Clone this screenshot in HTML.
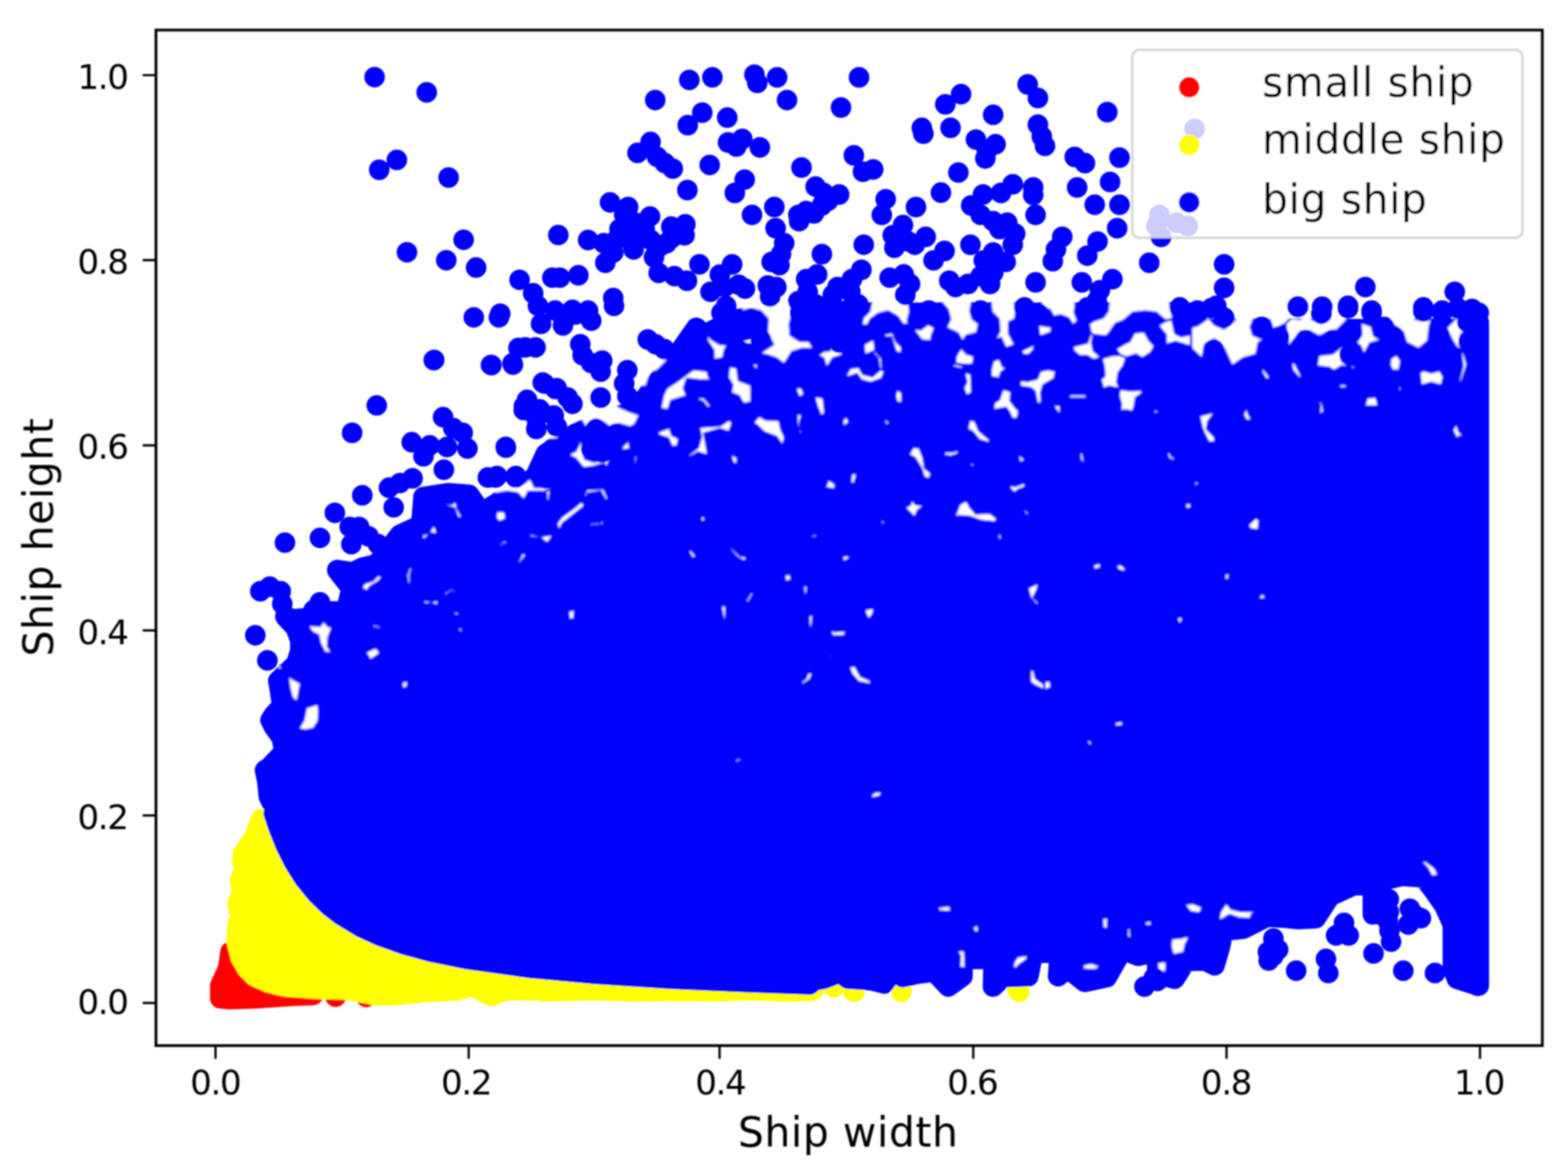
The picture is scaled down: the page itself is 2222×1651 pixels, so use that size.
<!DOCTYPE html>
<html lang="en">
<head>
<meta charset="utf-8">
<title>Ship width vs ship height</title>
<style>
html,body{margin:0;padding:0;background:#fff;}
body{width:2222px;height:1651px;overflow:hidden;}
svg{display:block;}
text{font-family:"DejaVu Sans","Liberation Sans",sans-serif;fill:#000;}
.tk{font-size:48.3px;letter-spacing:-1.9px;}
.lb{font-size:57.9px;letter-spacing:0.85px;}
</style>
</head>
<body>
<svg width="2222" height="1651" viewBox="0 0 2222 1651">
<rect x="0" y="0" width="2222" height="1651" fill="#fff"/>
<g id="plot" filter="url(#soft)">
<g id="small-ship" fill="#ff0000"><g stroke="#ff0000" stroke-width="29.2" stroke-linejoin="round"><path d="M312.2 1414.6L312.2 1396.8L323.4 1372.3L326.7 1349.0L358.9 1376.8L425.6 1407.9L443.4 1410.1L414.5 1411.2L363.4 1414.6L325.6 1415.9z"/></g><path d="M461.0 1412.4a14.6 14.6 0 1 0 29.2 0a14.6 14.6 0 1 0 -29.2 0zM504.4 1412.8a14.6 14.6 0 1 0 29.2 0a14.6 14.6 0 1 0 -29.2 0z"/></g>
<g id="middle-ship" fill="#ffff00"><g stroke="#ffff00" stroke-width="29.2" stroke-linejoin="round"><path d="M370.0 1161.1L361.2 1185.6L344.5 1210.0L343.4 1221.2L347.8 1232.3L340.0 1247.8L343.4 1263.4L336.7 1281.2L341.1 1299.0L336.7 1310.1L335.6 1334.5L341.1 1356.8L350.0 1372.3L361.2 1383.5L381.2 1392.3L403.4 1397.9L447.9 1401.2L492.3 1402.4L532.3 1410.1L559.0 1410.1L603.5 1405.7L647.9 1403.5L668.0 1396.8L696.9 1411.5L714.6 1403.5L764.0 1402.6L770.0 1405.0L840.0 1403.0L900.0 1405.0L973.0 1404.0L1007.0 1405.0L1064.0 1403.0L1114.0 1405.0L1150.0 1404.0L1147.6 1386.4L1022.2 1380.3L843.0 1366.6L753.4 1355.7L663.8 1339.2L610.0 1324.7L574.2 1311.8L538.3 1295.0L511.5 1278.5L484.6 1257.0L466.7 1238.8L448.8 1215.9L434.4 1193.1L423.7 1172.4z"/></g><path d="M1194.8 1404.8a14.6 14.6 0 1 0 29.2 0a14.6 14.6 0 1 0 -29.2 0zM1262.6 1404.8a14.6 14.6 0 1 0 29.2 0a14.6 14.6 0 1 0 -29.2 0zM1427.1 1401.2a14.6 14.6 0 1 0 29.2 0a14.6 14.6 0 1 0 -29.2 0zM1167.0 1399.0a14.6 14.6 0 1 0 29.2 0a14.6 14.6 0 1 0 -29.2 0zM1138.1 1402.3a14.6 14.6 0 1 0 29.2 0a14.6 14.6 0 1 0 -29.2 0zM1196.0 1405.4a14.6 14.6 0 1 0 29.2 0a14.6 14.6 0 1 0 -29.2 0zM1262.8 1405.4a14.6 14.6 0 1 0 29.2 0a14.6 14.6 0 1 0 -29.2 0zM1429.7 1405.4a14.6 14.6 0 1 0 29.2 0a14.6 14.6 0 1 0 -29.2 0z"/></g>
<g id="big-ship" fill="#0000ff"><g stroke="#0000ff" stroke-width="29.2" stroke-linejoin="round"><path d="M392.3 1151.6L381.1 1129.3L378.9 1107.1L375.6 1091.5L382.3 1087.1L403.4 1064.9L398.9 1044.9L387.8 1029.3L383.4 1020.4L387.8 1013.7L400.0 1000.4L396.7 978.2L394.5 964.8L404.5 955.9L420.1 940.4L425.6 922.6L425.6 907.0L418.9 889.2L404.5 873.7L415.6 877.9L437.8 875.7L469.0 866.8L491.2 864.6L497.9 833.5L477.9 807.9L500.1 811.3L513.4 804.6L533.4 800.1L551.2 777.9L566.8 757.9L595.7 744.6L597.9 733.4L600.1 704.5L635.7 699.0L664.6 701.2L682.4 726.8L711.3 709.0L729.1 711.2L760.0 672.3L773.4 643.4L815.6 614.5L900.1 581.2L922.3 554.5L944.6 525.6L976.8 478.9L986.8 464.5L997.9 474.5L1020.1 463.3L1033.5 452.2L1064.6 452.2L1122.4 443.3L1194.0 443.3L1194.0 443.3L1688.0 443.3L1688.0 466.7L2095.5 466.7L2095.5 460.8L2095.5 1396.8L2064.6 1387.0L2058.9 1372.3L2058.9 1310.1L2046.8 1283.4L2031.3 1261.2L2017.9 1243.4L1986.8 1241.2L1957.9 1247.8L1957.9 1294.5L1945.5 1295.8L1945.5 1252.3L1917.9 1254.5L1884.6 1270.1L1864.5 1301.2L1840.1 1302.5L1817.9 1300.3L1795.6 1299.0L1773.4 1310.1L1762.3 1315.9L1733.4 1319.0L1728.9 1341.2L1721.1 1367.9L1706.7 1360.3L1680.0 1362.5L1664.5 1387.0L1648.9 1382.5L1640.0 1390.1L1640.0 1347.9L1612.9 1354.5L1590.6 1345.6L1568.4 1384.8L1537.3 1391.4L1512.8 1372.3L1499.5 1383.4L1501.7 1350.1L1463.9 1350.1L1457.3 1383.4L1421.7 1384.8L1407.2 1398.1L1408.3 1359.0L1363.9 1359.0L1363.9 1383.4L1343.9 1398.1L1323.9 1376.8L1297.2 1380.3L1279.4 1384.8L1266.1 1375.9L1252.7 1393.7L1234.9 1389.2L1201.6 1387.0L1190.5 1378.1L1168.2 1387.0L1146.0 1391.4L1147.6 1395.1L1058.0 1392.0L950.5 1387.1L843.0 1380.2L753.4 1372.0L663.8 1359.6L610.0 1348.7L574.2 1339.0L538.3 1326.3L511.5 1313.9L484.6 1297.8L466.7 1284.1L448.8 1266.9L430.8 1244.8L416.5 1222.0L404.0 1196.7L395.0 1174.2L387.8 1152.7z"/></g><mask id="massmask" maskUnits="userSpaceOnUse" x="0" y="0" width="2222" height="1651"><g fill="#fff" stroke="#fff" stroke-width="30.8" stroke-linejoin="round"><path d="M392.3 1151.6L381.1 1129.3L378.9 1107.1L375.6 1091.5L382.3 1087.1L403.4 1064.9L398.9 1044.9L387.8 1029.3L383.4 1020.4L387.8 1013.7L400.0 1000.4L396.7 978.2L394.5 964.8L404.5 955.9L420.1 940.4L425.6 922.6L425.6 907.0L418.9 889.2L404.5 873.7L415.6 877.9L437.8 875.7L469.0 866.8L491.2 864.6L497.9 833.5L477.9 807.9L500.1 811.3L513.4 804.6L533.4 800.1L551.2 777.9L566.8 757.9L595.7 744.6L597.9 733.4L600.1 704.5L635.7 699.0L664.6 701.2L682.4 726.8L711.3 709.0L729.1 711.2L760.0 672.3L773.4 643.4L815.6 614.5L900.1 581.2L922.3 554.5L944.6 525.6L976.8 478.9L986.8 464.5L997.9 474.5L1020.1 463.3L1033.5 452.2L1064.6 452.2L1122.4 443.3L1194.0 443.3L1194.0 443.3L1688.0 443.3L1688.0 466.7L2095.5 466.7L2095.5 460.8L2095.5 1396.8L2064.6 1387.0L2058.9 1372.3L2058.9 1310.1L2046.8 1283.4L2031.3 1261.2L2017.9 1243.4L1986.8 1241.2L1957.9 1247.8L1957.9 1294.5L1945.5 1295.8L1945.5 1252.3L1917.9 1254.5L1884.6 1270.1L1864.5 1301.2L1840.1 1302.5L1817.9 1300.3L1795.6 1299.0L1773.4 1310.1L1762.3 1315.9L1733.4 1319.0L1728.9 1341.2L1721.1 1367.9L1706.7 1360.3L1680.0 1362.5L1664.5 1387.0L1648.9 1382.5L1640.0 1390.1L1640.0 1347.9L1612.9 1354.5L1590.6 1345.6L1568.4 1384.8L1537.3 1391.4L1512.8 1372.3L1499.5 1383.4L1501.7 1350.1L1463.9 1350.1L1457.3 1383.4L1421.7 1384.8L1407.2 1398.1L1408.3 1359.0L1363.9 1359.0L1363.9 1383.4L1343.9 1398.1L1323.9 1376.8L1297.2 1380.3L1279.4 1384.8L1266.1 1375.9L1252.7 1393.7L1234.9 1389.2L1201.6 1387.0L1190.5 1378.1L1168.2 1387.0L1146.0 1391.4L1147.6 1395.1L1058.0 1392.0L950.5 1387.1L843.0 1380.2L753.4 1372.0L663.8 1359.6L610.0 1348.7L574.2 1339.0L538.3 1326.3L511.5 1313.9L484.6 1297.8L466.7 1284.1L448.8 1266.9L430.8 1244.8L416.5 1222.0L404.0 1196.7L395.0 1174.2L387.8 1152.7z"/></g></mask><g mask="url(#massmask)"><path filter="url(#gapsoft)" fill="#ffffff" stroke="#0000ff" stroke-width="3.4" stroke-linejoin="round" d="M1688.0 463.3L1696.9 461.1L1712.5 450.0L1721.3 460.0L1734.7 465.6L1750.3 452.2L1754.7 436.7L1759.1 421.1L1823.6 421.1L1824.7 441.1L1830.3 450.0L1821.4 458.9L1812.5 463.3L1803.6 466.7L1799.2 453.3L1788.0 448.9L1776.9 452.2L1772.5 463.3L1775.8 474.5L1785.8 478.9L1796.9 477.8L1783.6 485.6L1780.3 502.3L1761.4 507.8L1745.8 518.9L1734.7 494.5L1721.3 481.1L1708.0 487.8L1703.6 508.9L1688.0 493.4zM1821.4 458.9L1830.3 450.0L1841.4 452.2L1854.7 443.3L1859.2 452.2L1872.5 457.8L1885.9 450.0L1894.8 421.1L1898.1 421.1L1901.4 445.6L1910.3 452.2L1901.4 461.1L1894.8 467.8L1881.4 471.1L1869.2 476.7L1857.0 470.0L1843.6 470.0L1832.5 483.4L1825.8 493.4L1823.6 474.5zM1928.1 456.7L1943.7 462.2L1947.0 475.6L1958.1 482.2L1941.4 486.7L1932.6 503.4L1928.1 491.1L1921.4 485.6L1929.2 474.5zM1868.1 503.4L1888.1 501.1L1899.2 492.3L1907.0 487.8L1901.4 498.9L1902.5 512.3L1910.3 517.8L1919.2 517.8L1921.4 527.8L1914.8 521.2L1901.4 518.9L1890.3 525.6L1883.6 521.2L1865.9 518.9zM1958.1 421.1L1999.3 421.1L1999.3 443.3L2005.9 452.2L2021.5 453.3L2029.3 451.1L2025.9 463.3L2023.7 483.4L2010.4 494.5L1992.6 485.6L1988.1 471.1L1974.8 461.1L1958.1 453.3L1957.0 441.1zM2052.6 461.1L2063.7 450.0L2081.5 458.9L2079.3 465.6L2070.4 474.5L2068.2 487.8L2073.7 496.7L2063.7 492.3L2057.1 481.1L2049.3 465.6zM2073.7 496.7L2079.3 516.7L2070.4 543.4L2067.1 540.0L2072.6 518.9L2070.4 501.1zM1970.3 507.8L1979.2 502.3L1985.5 511.1L1982.6 525.6L1972.6 524.5L1969.2 516.7zM2011.5 527.8L2017.0 524.5L2028.2 527.8L2040.4 524.5L2045.9 534.5L2042.6 546.7L2028.2 542.3L2013.7 546.7L2012.6 536.7zM1937.0 563.4L1950.3 562.3L1953.7 575.6L1933.7 575.6zM1829.2 511.1L1835.8 515.6L1844.7 533.4L1841.4 536.7L1831.4 524.5zM1786.9 521.2L1791.4 523.4L1800.3 534.5L1794.7 538.9L1788.0 527.8zM1867.0 565.6L1873.6 570.1L1876.5 583.4L1869.2 589.0L1870.3 574.5zM1766.9 575.6L1769.1 585.6L1774.3 595.6L1765.8 595.6L1761.4 587.8zM1699.1 589.0L1722.5 583.4L1712.5 596.7L1710.2 607.9L1721.3 619.0L1722.5 626.8L1712.5 626.8L1703.6 607.9zM2063.7 599.0L2068.2 612.3L2076.0 616.8L2067.1 619.0L2065.9 625.6L2058.2 610.1zM1768.0 744.6L1779.2 733.5L1784.7 736.8L1783.6 751.3L1772.5 750.1zM1691.3 685.7L1696.9 680.1L1699.1 685.7L1693.6 689.0zM1895.9 544.5L1910.3 544.5L1907.0 550.1L1899.2 550.1zM1981.5 550.1L1984.8 538.9L1986.4 554.5L1981.9 554.1zM1236.2 421.1L1287.4 421.1L1289.6 441.1L1286.3 454.5L1288.5 460.0L1279.6 460.0L1271.8 448.9L1258.5 441.1L1245.1 444.5L1234.0 452.2L1229.6 461.1L1220.7 461.1L1222.9 450.0L1231.8 441.1zM1292.9 465.6L1305.2 466.7L1315.2 458.9L1325.2 464.5L1320.7 474.5L1319.6 483.4L1306.3 482.2zM1327.4 421.1L1378.5 421.1L1375.2 441.1L1378.5 452.2L1387.4 458.9L1384.1 472.2L1369.6 475.6L1364.1 484.5L1357.4 472.2L1340.7 464.5L1346.3 452.2L1343.0 438.9zM1403.0 421.1L1437.4 421.1L1439.7 443.3L1438.6 452.2L1429.7 456.7L1429.7 472.2L1438.6 488.9L1425.2 493.4L1418.5 478.9L1408.5 483.4L1416.3 470.0L1415.2 452.2L1405.2 442.2zM1447.4 496.7L1466.3 487.8L1465.2 495.6L1457.5 503.4L1448.6 502.3zM1473.0 421.1L1525.3 421.1L1523.0 443.3L1527.5 454.5L1520.8 461.1L1514.1 451.1L1503.0 446.7L1493.0 448.9L1487.5 438.9L1476.3 436.7zM1470.8 460.0L1490.8 463.3L1489.7 471.1L1473.0 477.1zM1517.5 477.8L1523.0 490.0L1540.8 485.6L1545.3 472.2L1549.7 474.5L1547.5 485.6L1549.7 496.7L1560.8 506.7L1549.7 510.0L1540.8 504.5L1529.7 504.5L1520.8 496.7L1519.7 485.6zM1571.9 421.1L1656.4 421.1L1660.9 443.3L1663.1 452.2L1652.0 454.5L1638.6 443.3L1623.1 441.1L1605.3 443.3L1592.0 454.5L1580.8 458.9L1571.9 472.2L1567.5 476.7L1549.7 474.5L1545.3 471.1L1543.0 458.9L1549.7 454.5L1563.1 450.0L1569.7 441.1zM1607.5 471.1L1622.0 470.0L1628.6 482.2L1636.4 490.0L1630.9 500.0L1618.6 507.8L1609.7 502.3L1596.4 506.7L1587.5 503.4L1580.8 494.5L1592.0 487.8L1600.8 483.4zM1596.4 506.7L1592.0 518.9L1585.3 527.8L1583.1 541.2L1587.5 551.2L1571.9 547.8L1563.1 551.2L1560.8 541.2L1558.6 538.9L1565.3 532.3L1564.2 518.9L1560.8 507.8L1576.4 503.4L1587.5 503.4zM1586.4 551.2L1600.8 553.4L1618.6 552.3L1618.6 557.8L1609.7 563.4L1607.5 576.7L1605.3 583.4L1594.2 581.2L1587.5 583.4L1588.6 572.3L1585.3 561.2zM1652.0 454.5L1660.9 452.2L1665.3 472.2L1674.2 476.7L1688.0 473.4L1688.0 491.1L1665.3 484.5L1652.0 488.9L1652.0 474.5L1640.9 461.1zM1407.4 511.1L1416.3 507.8L1420.8 518.9L1427.4 521.2L1418.5 527.8L1416.3 536.7L1404.1 533.4L1404.1 523.4zM1343.0 518.9L1354.1 515.6L1363.0 517.8L1369.6 527.8L1376.3 530.0L1377.4 556.7L1369.6 561.2L1365.2 550.1L1369.6 541.2L1365.2 523.4L1349.6 520.0zM1361.9 492.3L1369.6 501.1L1380.8 504.5L1378.5 516.7L1363.0 516.7L1354.1 514.5L1354.1 505.6zM1474.1 525.6L1485.2 523.4L1496.4 525.6L1494.1 536.7L1478.6 545.6L1475.2 556.7L1476.3 571.2L1469.7 572.3L1466.3 554.5L1460.8 550.1L1445.2 547.8L1445.2 538.9L1456.3 540.0L1469.7 536.7zM1420.8 551.2L1433.0 554.5L1431.9 567.8L1438.6 576.7L1444.1 582.3L1441.9 593.4L1434.1 593.4L1429.7 583.4L1425.2 577.8L1407.4 581.2L1408.5 571.2L1416.3 565.6zM1511.9 565.6L1516.4 558.9L1538.6 558.9L1543.0 571.2L1537.5 564.5L1516.4 564.5zM1490.8 573.4L1503.0 574.5L1503.0 595.6L1499.7 585.6L1495.2 579.0zM1270.7 551.2L1278.5 556.7L1278.5 571.2L1270.7 570.1L1268.5 561.2zM1374.1 594.5L1381.9 596.7L1387.4 610.1L1403.0 623.4L1401.9 627.9L1387.4 623.4L1378.5 612.3L1370.7 607.9zM1294.0 633.4L1302.9 634.5L1308.5 649.0L1310.7 663.4L1319.6 670.1L1317.4 679.0L1309.6 676.8L1305.2 663.4L1296.3 649.0L1287.4 644.5zM1337.4 640.1L1349.6 640.1L1359.6 636.8L1357.4 643.4L1347.4 646.8L1338.5 645.7zM1427.4 686.8L1438.6 689.0L1453.0 683.4L1453.0 690.1L1441.9 694.6L1438.6 699.0L1433.0 694.6zM1291.8 706.8L1297.4 714.6L1310.7 715.7L1300.7 723.5L1296.3 733.5L1290.7 727.9L1281.8 719.0L1289.6 715.7zM1369.6 709.0L1375.2 719.0L1383.0 727.9L1403.0 726.8L1413.0 734.6L1410.8 740.1L1389.6 737.9L1374.1 732.4L1358.5 731.2L1345.2 736.8L1354.1 729.0L1359.6 714.6zM1441.9 641.2L1448.6 647.9L1454.1 651.2L1448.6 654.5L1447.4 660.1L1444.1 652.3zM1529.7 641.2L1534.2 641.2L1536.4 652.3L1541.9 660.1L1537.5 659.0L1530.8 652.3zM1653.1 642.3L1657.5 640.1L1659.8 645.7L1665.3 649.0L1664.2 653.4L1656.4 650.1zM1206.2 671.2L1212.9 670.1L1214.0 674.6L1210.7 685.7L1205.1 684.6zM1194.0 595.6L1199.6 589.0L1204.0 599.0L1198.4 602.3L1194.0 606.7zM1247.4 737.9L1252.9 736.8L1254.0 744.6L1257.4 749.0L1251.8 745.7zM1446.3 719.0L1451.9 721.2L1457.5 725.7L1457.5 734.6L1453.0 727.9zM1413.0 756.8L1418.5 756.8L1419.7 763.5L1415.2 764.6zM1679.8 713.5L1688.0 712.3L1688.0 720.1L1679.8 721.2zM1194.0 787.9L1202.9 786.8L1204.0 791.3L1194.0 797.1zM1251.8 595.6L1257.4 594.5L1260.7 600.1L1256.3 603.4zM1375.2 656.8L1383.0 654.5L1379.6 660.1L1375.2 663.4zM1634.2 582.3L1638.6 580.1L1644.2 585.6L1635.3 585.6zM1224.0 487.8L1238.5 480.0L1240.7 496.7L1225.1 503.4zM1251.8 473.4L1265.1 471.1L1269.6 483.4L1278.5 492.3L1277.4 501.1L1269.6 498.9L1262.9 477.8L1254.0 477.8zM1198.4 532.3L1205.1 521.2L1217.3 520.0L1222.9 530.0L1236.2 533.4L1247.4 523.4L1254.0 525.6L1249.6 536.7L1234.0 542.3L1220.7 538.9L1214.0 530.0L1200.7 534.5zM1239.6 496.7L1249.6 507.8L1250.7 523.4L1246.2 523.4L1244.0 507.8L1237.4 501.1zM1049.0 421.1L1118.0 421.1L1123.5 443.3L1119.1 458.9L1120.2 474.5L1133.5 483.4L1146.9 483.4L1153.5 494.5L1135.8 494.5L1122.4 498.9L1111.3 516.7L1100.2 507.8L1086.8 503.4L1075.7 501.1L1095.7 487.8L1086.8 472.2L1088.0 452.2L1077.9 441.1L1064.6 437.8L1051.3 441.1zM1178.0 476.7L1182.4 494.5L1194.0 498.9L1194.0 503.4L1180.2 507.8L1171.3 522.3L1166.9 507.8L1158.0 503.4L1169.1 496.7L1175.8 496.7zM1051.3 482.2L1061.3 470.0L1067.9 473.4L1065.7 488.9L1057.9 487.8zM1000.1 472.2L1009.0 481.1L1020.1 487.8L1031.3 487.8L1026.8 496.7L1024.6 507.8L1011.3 510.0L1011.3 496.7L1002.4 483.4zM1033.5 518.9L1044.6 521.2L1046.8 538.9L1064.6 545.6L1064.6 570.1L1053.5 572.3L1046.8 561.2L1035.7 556.7L1037.9 545.6L1031.3 534.5zM1064.6 516.7L1073.5 514.5L1074.6 527.8L1069.1 521.2zM982.3 523.4L1002.4 525.6L1004.6 534.5L1013.5 538.9L993.5 538.9L973.5 536.7L969.0 550.1L973.5 561.2L951.2 567.8L946.8 581.2L935.7 579.0L940.1 558.9L944.6 550.1L964.6 536.7zM986.8 563.4L997.9 563.4L1009.0 576.7L1002.4 577.8L995.7 569.0L985.7 565.6zM922.3 507.8L949.0 507.8L931.2 525.6L922.3 527.8L915.7 547.8L909.0 547.8L895.6 543.4L897.9 534.5L904.5 527.8L902.3 516.7zM869.0 567.8L877.9 576.7L893.4 583.4L906.8 587.8L900.1 601.2L893.4 605.6L877.9 601.2L864.5 605.6L855.6 599.0L844.5 594.5L828.9 605.6L824.5 596.7L806.7 590.1L795.6 581.2L791.2 570.1L797.8 576.7L811.2 583.4L824.5 583.4L837.8 579.0L851.2 581.2L862.3 574.5zM931.2 612.3L949.0 605.6L952.3 616.8L962.3 621.2L960.1 632.3L952.3 633.4L946.8 621.2L933.4 616.8zM1033.5 594.5L1037.9 599.0L1033.5 612.3L1020.1 607.9L997.9 614.5L1000.1 625.6L1003.5 645.7L989.0 641.2L975.7 649.0L975.7 644.5L989.0 634.5L993.5 619.0L991.2 607.9L982.3 605.6L1020.1 603.4zM1075.7 589.0L1084.6 594.5L1104.6 595.6L1106.8 607.9L1112.4 620.1L1109.1 632.3L1100.2 619.0L1082.4 612.3L1073.5 603.4L1066.8 599.0zM1126.9 550.1L1135.8 548.9L1140.2 558.9L1132.4 563.4zM1153.5 561.2L1166.9 563.4L1169.1 585.6L1163.5 590.1L1158.0 576.7zM1129.1 585.6L1136.9 587.8L1133.5 599.0L1134.6 607.9L1139.1 617.9L1132.4 613.4L1129.1 599.0zM1034.6 642.3L1045.7 649.0L1043.5 660.1L1037.9 654.5zM1168.0 671.2L1173.5 679.0L1183.6 685.7L1183.6 693.5L1169.1 691.2L1172.4 683.4zM820.1 616.8L826.7 634.5L828.9 650.1L842.3 654.5L855.6 650.1L865.6 646.8L860.1 663.4L855.6 656.8L842.3 661.2L826.7 663.4L815.6 650.1L804.5 644.5L815.6 639.0L820.1 630.1zM880.1 634.5L891.2 623.4L893.4 636.8L882.3 637.9zM899.0 644.5L903.4 645.7L901.2 661.2L897.9 660.1zM777.8 601.2L784.5 610.1L797.8 613.4L788.9 622.3L773.4 623.4L773.4 612.3zM700.0 692.3L713.3 687.9L722.2 690.1L744.5 683.4L751.1 676.8L757.8 690.1L784.5 690.1L780.0 696.8L777.8 712.3L773.4 712.3L771.1 696.8L748.9 696.8L742.2 709.0L733.3 699.0L717.8 696.8L700.0 700.1zM831.2 693.5L855.6 692.3L862.3 706.8L857.8 709.0L851.2 696.8L833.4 699.0L828.9 710.1L827.8 701.2zM824.5 710.1L828.9 716.8L806.7 734.6L797.8 741.3L791.2 754.6L788.9 741.3L795.6 732.4L811.2 721.2zM853.4 725.7L855.6 743.5L835.6 745.7L835.6 741.3L851.2 740.1zM702.2 723.5L715.6 724.6L717.8 736.8L704.4 740.1L700.0 732.4zM748.9 755.7L766.7 760.1L785.6 756.8L777.8 771.3L773.4 772.4L766.7 764.6L751.1 763.5zM713.3 765.7L722.2 767.9L713.3 772.4L706.7 779.0L705.6 774.6zM740.0 783.5L746.7 785.7L737.8 797.1L731.1 797.1zM974.6 775.7L980.1 780.2L986.8 787.9L982.3 792.4L976.8 784.6zM1026.8 772.4L1037.9 776.8L1049.0 787.9L1059.1 789.1L1055.7 795.7L1044.6 790.2L1035.7 780.2zM992.4 734.6L996.8 729.0L1000.1 737.9L993.5 739.0zM1146.9 759.0L1156.9 756.8L1158.0 761.3L1149.1 762.4zM703.5 724.5L718.0 724.5L716.9 735.7L706.8 740.1L702.4 733.4zM749.1 755.7L762.4 759.0L784.7 757.9L775.8 770.1L766.9 763.5L751.3 761.2zM711.3 766.8L721.3 765.7L722.4 770.1L713.5 771.2L709.1 779.0L705.7 776.8zM739.1 784.6L745.8 782.3L744.6 791.2L733.5 800.1L730.2 797.9L736.9 791.2zM535.7 814.6L542.3 817.9L535.7 824.6L524.5 831.3L520.1 837.9L512.3 833.5L515.7 826.8L529.0 822.4zM580.1 803.5L584.6 804.6L581.2 815.7L582.3 827.9L577.9 826.8L576.1 815.7zM600.1 850.2L611.3 852.4L622.4 850.2L620.1 857.9L611.3 855.7L600.1 855.7zM629.0 840.2L637.9 834.6L649.0 835.7L647.9 839.0L637.9 839.0L631.3 844.6zM613.5 742.3L617.9 749.0L620.1 757.9L611.3 755.7L603.5 762.3L599.0 766.8L597.9 757.9L606.8 755.7L611.3 749.0zM624.6 712.3L640.2 714.5L646.8 709.0L647.9 720.1L655.7 733.4L649.0 734.5L643.5 720.1L626.8 715.7zM773.5 695.6L781.3 693.4L780.2 710.1L774.7 711.2zM435.6 885.9L453.4 887.0L459.0 879.2L464.5 887.0L471.2 889.2L465.6 902.6L464.5 915.9L471.2 925.9L460.1 924.8L453.4 911.5L451.2 900.3L442.3 895.9zM516.8 924.8L533.4 917.0L539.0 925.9L531.2 931.5L524.5 935.9L521.2 929.3zM407.8 955.9L415.6 962.6L426.7 968.2L424.5 978.2L421.2 995.9L413.4 988.2L410.0 973.7zM433.4 1002.6L451.2 997.1L452.3 1009.3L451.2 1022.6L444.5 1032.6L433.4 1034.9L422.3 1033.7L430.1 1020.4L432.3 1009.3zM569.0 967.0L579.0 963.7L576.8 974.8L570.1 975.9zM524.5 882.6L533.4 885.9L542.3 888.1L537.9 891.5L529.0 889.2zM647.9 891.5L653.5 888.1L657.9 900.3L651.3 894.8zM624.6 867.0L651.3 867.0L649.0 872.6L637.9 869.2zM392.3 941.5L398.9 943.7L400.0 949.3L393.4 948.1zM1677.8 1281.2L1691.1 1280.1L1704.5 1285.6L1700.0 1294.5L1686.7 1292.3zM1737.8 1278.9L1744.5 1287.8L1757.8 1291.2L1773.4 1291.2L1784.5 1287.8L1773.4 1296.7L1772.3 1302.3L1755.6 1301.2L1742.3 1296.7L1731.2 1303.4L1726.7 1303.4L1728.9 1292.3zM1660.0 1330.1L1673.3 1329.0L1686.7 1325.6L1680.0 1339.0L1677.8 1350.1L1662.2 1353.4L1658.9 1341.2zM1640.0 1363.4L1653.3 1362.3L1652.2 1379.0L1640.0 1374.5zM2013.5 1221.1L2020.2 1220.0L2033.5 1230.0L2038.0 1238.9L2042.4 1240.0L2029.1 1242.3L2022.4 1230.0zM1328.3 1285.6L1346.1 1283.4L1348.3 1292.3L1330.5 1291.2zM1378.3 1314.5L1386.1 1309.0L1387.2 1322.3L1380.5 1320.1zM1355.0 1346.8L1367.2 1346.8L1368.3 1372.3L1359.4 1371.2L1360.5 1354.5zM1441.7 1355.6L1457.3 1353.4L1455.0 1360.1L1443.9 1367.9L1439.5 1373.4L1435.0 1370.1L1437.2 1362.3zM1561.7 1301.2L1570.6 1300.1L1569.5 1316.7L1562.9 1315.6zM1597.3 1315.6L1601.8 1314.5L1602.9 1330.1L1597.3 1327.9zM1620.7 1306.7L1630.7 1304.5L1632.9 1311.2L1624.0 1312.3zM1535.1 1366.8L1546.2 1364.5L1559.5 1369.0L1552.8 1374.5L1541.7 1374.5L1534.0 1373.4zM805.0 866.5L815.0 863.2L813.3 876.5L806.6 878.2zM1111.5 814.9L1119.8 813.2L1121.5 821.5L1113.2 824.9zM1138.2 829.9L1144.8 829.9L1143.2 843.2L1139.2 841.5zM1064.9 838.2L1068.2 841.5L1059.9 854.9L1056.5 851.5zM1021.5 858.2L1029.2 858.2L1028.2 879.9L1024.9 878.2zM1224.8 863.2L1239.8 861.5L1236.4 871.5L1231.4 878.2L1227.1 871.5zM1145.8 871.5L1152.5 871.5L1150.5 889.8L1146.5 888.2zM1174.8 891.5L1183.1 894.8L1199.8 893.2L1196.5 901.5L1179.8 901.5zM1171.5 904.8L1174.8 904.8L1173.1 919.8L1179.8 931.5L1176.5 933.2L1169.8 919.8zM1203.1 944.8L1211.5 943.2L1219.8 958.1L1234.8 964.8L1233.1 969.8L1216.5 966.5L1206.5 954.8zM1144.8 953.2L1152.5 952.5L1148.1 963.1L1138.2 969.8L1133.2 968.1L1141.5 961.5zM1041.5 1076.4L1051.5 1073.1L1049.9 1078.1L1041.5 1081.4zM1456.3 833.2L1473.0 824.9L1469.7 836.5L1464.7 846.5L1476.3 858.2L1468.0 856.5L1459.7 846.5zM1459.7 949.8L1464.7 948.2L1468.0 961.5L1480.0 969.8L1480.0 978.1L1466.3 971.5L1459.7 966.5zM1548.5 800.5L1560.1 797.1L1559.5 805.5L1550.1 807.1zM1581.8 800.5L1588.5 799.8L1595.2 805.5L1593.5 810.5L1583.5 807.1zM1735.5 813.8L1743.1 811.1L1740.5 823.2L1735.5 820.5zM1783.9 845.5L1788.9 840.5L1793.9 845.5L1792.2 848.9L1783.9 848.9zM1667.7 874.6L1677.0 874.6L1674.3 882.3L1669.7 883.9zM1480.0 965.7L1488.3 964.1L1490.0 974.1L1480.0 979.1zM1579.5 1024.2L1590.2 1020.8L1591.9 1027.5L1580.2 1030.2zM1537.4 1048.2L1545.1 1049.2L1549.5 1056.9L1543.4 1055.9zM1234.0 1126.7L1240.7 1121.7L1250.7 1121.7L1247.4 1128.4L1235.7 1131.7z"/></g>
<path d="M516.2 109.3a14.6 14.6 0 1 0 29.2 0a14.6 14.6 0 1 0 -29.2 0zM590.1 130.9a14.6 14.6 0 1 0 29.2 0a14.6 14.6 0 1 0 -29.2 0zM522.8 240.6a14.6 14.6 0 1 0 29.2 0a14.6 14.6 0 1 0 -29.2 0zM547.8 226.6a14.6 14.6 0 1 0 29.2 0a14.6 14.6 0 1 0 -29.2 0zM621.1 251.6a14.6 14.6 0 1 0 29.2 0a14.6 14.6 0 1 0 -29.2 0zM642.4 339.8a14.6 14.6 0 1 0 29.2 0a14.6 14.6 0 1 0 -29.2 0zM562.1 357.5a14.6 14.6 0 1 0 29.2 0a14.6 14.6 0 1 0 -29.2 0zM617.8 368.8a14.6 14.6 0 1 0 29.2 0a14.6 14.6 0 1 0 -29.2 0zM660.1 379.2a14.6 14.6 0 1 0 29.2 0a14.6 14.6 0 1 0 -29.2 0zM721.7 396.5a14.6 14.6 0 1 0 29.2 0a14.6 14.6 0 1 0 -29.2 0zM656.8 449.8a14.6 14.6 0 1 0 29.2 0a14.6 14.6 0 1 0 -29.2 0zM692.4 449.8a14.6 14.6 0 1 0 29.2 0a14.6 14.6 0 1 0 -29.2 0zM600.1 510.4a14.6 14.6 0 1 0 29.2 0a14.6 14.6 0 1 0 -29.2 0zM681.8 517.4a14.6 14.6 0 1 0 29.2 0a14.6 14.6 0 1 0 -29.2 0zM711.7 514.8a14.6 14.6 0 1 0 29.2 0a14.6 14.6 0 1 0 -29.2 0zM720.1 493.1a14.6 14.6 0 1 0 29.2 0a14.6 14.6 0 1 0 -29.2 0zM962.2 113.3a14.6 14.6 0 1 0 29.2 0a14.6 14.6 0 1 0 -29.2 0zM994.9 109.6a14.6 14.6 0 1 0 29.2 0a14.6 14.6 0 1 0 -29.2 0zM1054.5 105.8a14.6 14.6 0 1 0 29.2 0a14.6 14.6 0 1 0 -29.2 0zM1058.5 117.4a14.6 14.6 0 1 0 29.2 0a14.6 14.6 0 1 0 -29.2 0zM1086.7 109.6a14.6 14.6 0 1 0 29.2 0a14.6 14.6 0 1 0 -29.2 0zM1100.7 141.8a14.6 14.6 0 1 0 29.2 0a14.6 14.6 0 1 0 -29.2 0zM913.9 141.8a14.6 14.6 0 1 0 29.2 0a14.6 14.6 0 1 0 -29.2 0zM1177.2 152.3a14.6 14.6 0 1 0 29.2 0a14.6 14.6 0 1 0 -29.2 0zM980.6 159.6a14.6 14.6 0 1 0 29.2 0a14.6 14.6 0 1 0 -29.2 0zM960.0 177.4a14.6 14.6 0 1 0 29.2 0a14.6 14.6 0 1 0 -29.2 0zM1016.0 166.7a14.6 14.6 0 1 0 29.2 0a14.6 14.6 0 1 0 -29.2 0zM1017.1 201.8a14.6 14.6 0 1 0 29.2 0a14.6 14.6 0 1 0 -29.2 0zM1037.3 196.9a14.6 14.6 0 1 0 29.2 0a14.6 14.6 0 1 0 -29.2 0zM1028.9 207.6a14.6 14.6 0 1 0 29.2 0a14.6 14.6 0 1 0 -29.2 0zM1062.2 208.9a14.6 14.6 0 1 0 29.2 0a14.6 14.6 0 1 0 -29.2 0zM907.3 201.2a14.6 14.6 0 1 0 29.2 0a14.6 14.6 0 1 0 -29.2 0zM888.8 216.7a14.6 14.6 0 1 0 29.2 0a14.6 14.6 0 1 0 -29.2 0zM916.6 222.3a14.6 14.6 0 1 0 29.2 0a14.6 14.6 0 1 0 -29.2 0zM927.7 231.2a14.6 14.6 0 1 0 29.2 0a14.6 14.6 0 1 0 -29.2 0zM938.8 239.0a14.6 14.6 0 1 0 29.2 0a14.6 14.6 0 1 0 -29.2 0zM991.1 233.8a14.6 14.6 0 1 0 29.2 0a14.6 14.6 0 1 0 -29.2 0zM1121.2 237.4a14.6 14.6 0 1 0 29.2 0a14.6 14.6 0 1 0 -29.2 0zM959.5 269.4a14.6 14.6 0 1 0 29.2 0a14.6 14.6 0 1 0 -29.2 0zM1040.7 254.5a14.6 14.6 0 1 0 29.2 0a14.6 14.6 0 1 0 -29.2 0zM1026.7 273.4a14.6 14.6 0 1 0 29.2 0a14.6 14.6 0 1 0 -29.2 0zM1051.1 304.5a14.6 14.6 0 1 0 29.2 0a14.6 14.6 0 1 0 -29.2 0zM1082.7 293.4a14.6 14.6 0 1 0 29.2 0a14.6 14.6 0 1 0 -29.2 0zM1141.2 264.5a14.6 14.6 0 1 0 29.2 0a14.6 14.6 0 1 0 -29.2 0zM1152.3 273.4a14.6 14.6 0 1 0 29.2 0a14.6 14.6 0 1 0 -29.2 0zM1174.5 275.6a14.6 14.6 0 1 0 29.2 0a14.6 14.6 0 1 0 -29.2 0zM1150.1 291.2a14.6 14.6 0 1 0 29.2 0a14.6 14.6 0 1 0 -29.2 0zM1127.8 299.0a14.6 14.6 0 1 0 29.2 0a14.6 14.6 0 1 0 -29.2 0zM1116.7 304.5a14.6 14.6 0 1 0 29.2 0a14.6 14.6 0 1 0 -29.2 0zM1138.9 302.3a14.6 14.6 0 1 0 29.2 0a14.6 14.6 0 1 0 -29.2 0zM1117.8 313.4a14.6 14.6 0 1 0 29.2 0a14.6 14.6 0 1 0 -29.2 0zM1158.9 284.5a14.6 14.6 0 1 0 29.2 0a14.6 14.6 0 1 0 -29.2 0zM776.6 333.0a14.6 14.6 0 1 0 29.2 0a14.6 14.6 0 1 0 -29.2 0zM849.9 286.8a14.6 14.6 0 1 0 29.2 0a14.6 14.6 0 1 0 -29.2 0zM875.5 293.4a14.6 14.6 0 1 0 29.2 0a14.6 14.6 0 1 0 -29.2 0zM869.9 304.5a14.6 14.6 0 1 0 29.2 0a14.6 14.6 0 1 0 -29.2 0zM906.6 306.8a14.6 14.6 0 1 0 29.2 0a14.6 14.6 0 1 0 -29.2 0zM885.5 315.7a14.6 14.6 0 1 0 29.2 0a14.6 14.6 0 1 0 -29.2 0zM863.3 324.6a14.6 14.6 0 1 0 29.2 0a14.6 14.6 0 1 0 -29.2 0zM818.8 340.1a14.6 14.6 0 1 0 29.2 0a14.6 14.6 0 1 0 -29.2 0zM841.0 344.6a14.6 14.6 0 1 0 29.2 0a14.6 14.6 0 1 0 -29.2 0zM858.8 340.1a14.6 14.6 0 1 0 29.2 0a14.6 14.6 0 1 0 -29.2 0zM881.0 335.7a14.6 14.6 0 1 0 29.2 0a14.6 14.6 0 1 0 -29.2 0zM898.8 324.6a14.6 14.6 0 1 0 29.2 0a14.6 14.6 0 1 0 -29.2 0zM883.3 353.5a14.6 14.6 0 1 0 29.2 0a14.6 14.6 0 1 0 -29.2 0zM843.2 372.4a14.6 14.6 0 1 0 29.2 0a14.6 14.6 0 1 0 -29.2 0zM854.4 357.9a14.6 14.6 0 1 0 29.2 0a14.6 14.6 0 1 0 -29.2 0zM936.6 321.2a14.6 14.6 0 1 0 29.2 0a14.6 14.6 0 1 0 -29.2 0zM956.6 317.9a14.6 14.6 0 1 0 29.2 0a14.6 14.6 0 1 0 -29.2 0zM955.5 333.4a14.6 14.6 0 1 0 29.2 0a14.6 14.6 0 1 0 -29.2 0zM936.6 337.9a14.6 14.6 0 1 0 29.2 0a14.6 14.6 0 1 0 -29.2 0zM907.7 340.1a14.6 14.6 0 1 0 29.2 0a14.6 14.6 0 1 0 -29.2 0zM921.1 349.0a14.6 14.6 0 1 0 29.2 0a14.6 14.6 0 1 0 -29.2 0zM930.0 344.6a14.6 14.6 0 1 0 29.2 0a14.6 14.6 0 1 0 -29.2 0zM912.2 364.6a14.6 14.6 0 1 0 29.2 0a14.6 14.6 0 1 0 -29.2 0zM918.8 386.8a14.6 14.6 0 1 0 29.2 0a14.6 14.6 0 1 0 -29.2 0zM941.1 391.3a14.6 14.6 0 1 0 29.2 0a14.6 14.6 0 1 0 -29.2 0zM958.9 397.9a14.6 14.6 0 1 0 29.2 0a14.6 14.6 0 1 0 -29.2 0zM976.6 374.6a14.6 14.6 0 1 0 29.2 0a14.6 14.6 0 1 0 -29.2 0zM1084.5 323.4a14.6 14.6 0 1 0 29.2 0a14.6 14.6 0 1 0 -29.2 0zM1096.7 344.6a14.6 14.6 0 1 0 29.2 0a14.6 14.6 0 1 0 -29.2 0zM1092.2 360.1a14.6 14.6 0 1 0 29.2 0a14.6 14.6 0 1 0 -29.2 0zM1078.9 371.2a14.6 14.6 0 1 0 29.2 0a14.6 14.6 0 1 0 -29.2 0zM1090.0 375.7a14.6 14.6 0 1 0 29.2 0a14.6 14.6 0 1 0 -29.2 0zM1150.1 360.1a14.6 14.6 0 1 0 29.2 0a14.6 14.6 0 1 0 -29.2 0zM1022.9 374.6a14.6 14.6 0 1 0 29.2 0a14.6 14.6 0 1 0 -29.2 0zM1005.5 389.0a14.6 14.6 0 1 0 29.2 0a14.6 14.6 0 1 0 -29.2 0zM1032.2 403.5a14.6 14.6 0 1 0 29.2 0a14.6 14.6 0 1 0 -29.2 0zM1012.2 406.8a14.6 14.6 0 1 0 29.2 0a14.6 14.6 0 1 0 -29.2 0zM992.2 413.5a14.6 14.6 0 1 0 29.2 0a14.6 14.6 0 1 0 -29.2 0zM1014.4 433.5a14.6 14.6 0 1 0 29.2 0a14.6 14.6 0 1 0 -29.2 0zM1041.1 409.0a14.6 14.6 0 1 0 29.2 0a14.6 14.6 0 1 0 -29.2 0zM1073.4 404.6a14.6 14.6 0 1 0 29.2 0a14.6 14.6 0 1 0 -29.2 0zM1085.6 406.8a14.6 14.6 0 1 0 29.2 0a14.6 14.6 0 1 0 -29.2 0zM1076.7 420.2a14.6 14.6 0 1 0 29.2 0a14.6 14.6 0 1 0 -29.2 0zM1143.4 389.0a14.6 14.6 0 1 0 29.2 0a14.6 14.6 0 1 0 -29.2 0zM1127.8 395.7a14.6 14.6 0 1 0 29.2 0a14.6 14.6 0 1 0 -29.2 0zM1130.0 413.5a14.6 14.6 0 1 0 29.2 0a14.6 14.6 0 1 0 -29.2 0zM1116.7 426.8a14.6 14.6 0 1 0 29.2 0a14.6 14.6 0 1 0 -29.2 0zM1141.2 431.3a14.6 14.6 0 1 0 29.2 0a14.6 14.6 0 1 0 -29.2 0zM1172.3 406.8a14.6 14.6 0 1 0 29.2 0a14.6 14.6 0 1 0 -29.2 0zM1165.6 417.9a14.6 14.6 0 1 0 29.2 0a14.6 14.6 0 1 0 -29.2 0zM1152.3 440.2a14.6 14.6 0 1 0 29.2 0a14.6 14.6 0 1 0 -29.2 0zM741.0 415.7a14.6 14.6 0 1 0 29.2 0a14.6 14.6 0 1 0 -29.2 0zM747.7 433.5a14.6 14.6 0 1 0 29.2 0a14.6 14.6 0 1 0 -29.2 0zM768.1 393.5a14.6 14.6 0 1 0 29.2 0a14.6 14.6 0 1 0 -29.2 0zM778.8 393.5a14.6 14.6 0 1 0 29.2 0a14.6 14.6 0 1 0 -29.2 0zM805.0 390.1a14.6 14.6 0 1 0 29.2 0a14.6 14.6 0 1 0 -29.2 0zM854.4 422.4a14.6 14.6 0 1 0 29.2 0a14.6 14.6 0 1 0 -29.2 0zM855.5 433.5a14.6 14.6 0 1 0 29.2 0a14.6 14.6 0 1 0 -29.2 0zM772.1 440.2a14.6 14.6 0 1 0 29.2 0a14.6 14.6 0 1 0 -29.2 0zM796.6 439.1a14.6 14.6 0 1 0 29.2 0a14.6 14.6 0 1 0 -29.2 0zM818.8 440.2a14.6 14.6 0 1 0 29.2 0a14.6 14.6 0 1 0 -29.2 0zM694.3 444.6a14.6 14.6 0 1 0 29.2 0a14.6 14.6 0 1 0 -29.2 0zM1202.7 109.6a14.6 14.6 0 1 0 29.2 0a14.6 14.6 0 1 0 -29.2 0zM1347.3 133.4a14.6 14.6 0 1 0 29.2 0a14.6 14.6 0 1 0 -29.2 0zM1325.0 147.8a14.6 14.6 0 1 0 29.2 0a14.6 14.6 0 1 0 -29.2 0zM1392.8 162.7a14.6 14.6 0 1 0 29.2 0a14.6 14.6 0 1 0 -29.2 0zM1441.7 119.6a14.6 14.6 0 1 0 29.2 0a14.6 14.6 0 1 0 -29.2 0zM1456.2 138.9a14.6 14.6 0 1 0 29.2 0a14.6 14.6 0 1 0 -29.2 0zM1554.5 158.9a14.6 14.6 0 1 0 29.2 0a14.6 14.6 0 1 0 -29.2 0zM1291.7 181.2a14.6 14.6 0 1 0 29.2 0a14.6 14.6 0 1 0 -29.2 0zM1293.9 189.4a14.6 14.6 0 1 0 29.2 0a14.6 14.6 0 1 0 -29.2 0zM1332.4 181.2a14.6 14.6 0 1 0 29.2 0a14.6 14.6 0 1 0 -29.2 0zM1368.4 197.8a14.6 14.6 0 1 0 29.2 0a14.6 14.6 0 1 0 -29.2 0zM1396.2 204.5a14.6 14.6 0 1 0 29.2 0a14.6 14.6 0 1 0 -29.2 0zM1383.9 213.4a14.6 14.6 0 1 0 29.2 0a14.6 14.6 0 1 0 -29.2 0zM1381.7 224.5a14.6 14.6 0 1 0 29.2 0a14.6 14.6 0 1 0 -29.2 0zM1456.2 176.7a14.6 14.6 0 1 0 29.2 0a14.6 14.6 0 1 0 -29.2 0zM1461.7 193.4a14.6 14.6 0 1 0 29.2 0a14.6 14.6 0 1 0 -29.2 0zM1466.2 206.7a14.6 14.6 0 1 0 29.2 0a14.6 14.6 0 1 0 -29.2 0zM1508.4 222.3a14.6 14.6 0 1 0 29.2 0a14.6 14.6 0 1 0 -29.2 0zM1522.9 231.2a14.6 14.6 0 1 0 29.2 0a14.6 14.6 0 1 0 -29.2 0zM1571.8 223.4a14.6 14.6 0 1 0 29.2 0a14.6 14.6 0 1 0 -29.2 0zM1195.4 220.1a14.6 14.6 0 1 0 29.2 0a14.6 14.6 0 1 0 -29.2 0zM1208.3 243.4a14.6 14.6 0 1 0 29.2 0a14.6 14.6 0 1 0 -29.2 0zM1222.8 240.1a14.6 14.6 0 1 0 29.2 0a14.6 14.6 0 1 0 -29.2 0zM1343.5 244.5a14.6 14.6 0 1 0 29.2 0a14.6 14.6 0 1 0 -29.2 0zM1318.8 273.0a14.6 14.6 0 1 0 29.2 0a14.6 14.6 0 1 0 -29.2 0zM1511.8 265.6a14.6 14.6 0 1 0 29.2 0a14.6 14.6 0 1 0 -29.2 0zM1558.5 257.9a14.6 14.6 0 1 0 29.2 0a14.6 14.6 0 1 0 -29.2 0zM1536.7 290.1a14.6 14.6 0 1 0 29.2 0a14.6 14.6 0 1 0 -29.2 0zM1571.8 290.1a14.6 14.6 0 1 0 29.2 0a14.6 14.6 0 1 0 -29.2 0zM1452.9 304.5a14.6 14.6 0 1 0 29.2 0a14.6 14.6 0 1 0 -29.2 0zM1449.5 265.6a14.6 14.6 0 1 0 29.2 0a14.6 14.6 0 1 0 -29.2 0zM1449.5 276.1a14.6 14.6 0 1 0 29.2 0a14.6 14.6 0 1 0 -29.2 0zM1420.6 261.2a14.6 14.6 0 1 0 29.2 0a14.6 14.6 0 1 0 -29.2 0zM1403.9 273.4a14.6 14.6 0 1 0 29.2 0a14.6 14.6 0 1 0 -29.2 0zM1378.4 275.6a14.6 14.6 0 1 0 29.2 0a14.6 14.6 0 1 0 -29.2 0zM1361.7 291.2a14.6 14.6 0 1 0 29.2 0a14.6 14.6 0 1 0 -29.2 0zM1375.0 304.5a14.6 14.6 0 1 0 29.2 0a14.6 14.6 0 1 0 -29.2 0zM1392.8 313.4a14.6 14.6 0 1 0 29.2 0a14.6 14.6 0 1 0 -29.2 0zM1412.8 315.7a14.6 14.6 0 1 0 29.2 0a14.6 14.6 0 1 0 -29.2 0zM1424.0 331.2a14.6 14.6 0 1 0 29.2 0a14.6 14.6 0 1 0 -29.2 0zM1420.6 346.8a14.6 14.6 0 1 0 29.2 0a14.6 14.6 0 1 0 -29.2 0zM1401.7 324.6a14.6 14.6 0 1 0 29.2 0a14.6 14.6 0 1 0 -29.2 0zM1240.5 282.3a14.6 14.6 0 1 0 29.2 0a14.6 14.6 0 1 0 -29.2 0zM1235.0 304.5a14.6 14.6 0 1 0 29.2 0a14.6 14.6 0 1 0 -29.2 0zM1283.4 293.4a14.6 14.6 0 1 0 29.2 0a14.6 14.6 0 1 0 -29.2 0zM1265.0 319.0a14.6 14.6 0 1 0 29.2 0a14.6 14.6 0 1 0 -29.2 0zM1250.5 333.4a14.6 14.6 0 1 0 29.2 0a14.6 14.6 0 1 0 -29.2 0zM1272.8 342.3a14.6 14.6 0 1 0 29.2 0a14.6 14.6 0 1 0 -29.2 0zM1252.8 351.2a14.6 14.6 0 1 0 29.2 0a14.6 14.6 0 1 0 -29.2 0zM1297.2 335.7a14.6 14.6 0 1 0 29.2 0a14.6 14.6 0 1 0 -29.2 0zM1281.7 346.8a14.6 14.6 0 1 0 29.2 0a14.6 14.6 0 1 0 -29.2 0zM1209.4 346.8a14.6 14.6 0 1 0 29.2 0a14.6 14.6 0 1 0 -29.2 0zM1323.9 355.7a14.6 14.6 0 1 0 29.2 0a14.6 14.6 0 1 0 -29.2 0zM1308.3 369.0a14.6 14.6 0 1 0 29.2 0a14.6 14.6 0 1 0 -29.2 0zM1360.6 346.8a14.6 14.6 0 1 0 29.2 0a14.6 14.6 0 1 0 -29.2 0zM1392.8 357.9a14.6 14.6 0 1 0 29.2 0a14.6 14.6 0 1 0 -29.2 0zM1410.6 371.2a14.6 14.6 0 1 0 29.2 0a14.6 14.6 0 1 0 -29.2 0zM1379.5 369.0a14.6 14.6 0 1 0 29.2 0a14.6 14.6 0 1 0 -29.2 0zM1397.3 369.0a14.6 14.6 0 1 0 29.2 0a14.6 14.6 0 1 0 -29.2 0zM1392.8 386.8a14.6 14.6 0 1 0 29.2 0a14.6 14.6 0 1 0 -29.2 0zM1375.0 391.3a14.6 14.6 0 1 0 29.2 0a14.6 14.6 0 1 0 -29.2 0zM1388.4 402.4a14.6 14.6 0 1 0 29.2 0a14.6 14.6 0 1 0 -29.2 0zM1357.3 402.4a14.6 14.6 0 1 0 29.2 0a14.6 14.6 0 1 0 -29.2 0zM1330.6 397.9a14.6 14.6 0 1 0 29.2 0a14.6 14.6 0 1 0 -29.2 0zM1339.5 406.8a14.6 14.6 0 1 0 29.2 0a14.6 14.6 0 1 0 -29.2 0zM1568.5 323.4a14.6 14.6 0 1 0 29.2 0a14.6 14.6 0 1 0 -29.2 0zM1490.7 335.7a14.6 14.6 0 1 0 29.2 0a14.6 14.6 0 1 0 -29.2 0zM1481.8 353.5a14.6 14.6 0 1 0 29.2 0a14.6 14.6 0 1 0 -29.2 0zM1477.3 370.1a14.6 14.6 0 1 0 29.2 0a14.6 14.6 0 1 0 -29.2 0zM1540.7 342.3a14.6 14.6 0 1 0 29.2 0a14.6 14.6 0 1 0 -29.2 0zM1526.2 362.3a14.6 14.6 0 1 0 29.2 0a14.6 14.6 0 1 0 -29.2 0zM1614.0 372.4a14.6 14.6 0 1 0 29.2 0a14.6 14.6 0 1 0 -29.2 0zM1630.7 335.7a14.6 14.6 0 1 0 29.2 0a14.6 14.6 0 1 0 -29.2 0zM1628.5 304.5a14.6 14.6 0 1 0 29.2 0a14.6 14.6 0 1 0 -29.2 0zM1624.0 320.1a14.6 14.6 0 1 0 29.2 0a14.6 14.6 0 1 0 -29.2 0zM1652.9 315.7a14.6 14.6 0 1 0 29.2 0a14.6 14.6 0 1 0 -29.2 0zM1668.5 320.1a14.6 14.6 0 1 0 29.2 0a14.6 14.6 0 1 0 -29.2 0zM1452.9 400.1a14.6 14.6 0 1 0 29.2 0a14.6 14.6 0 1 0 -29.2 0zM1518.4 400.1a14.6 14.6 0 1 0 29.2 0a14.6 14.6 0 1 0 -29.2 0zM1561.8 395.7a14.6 14.6 0 1 0 29.2 0a14.6 14.6 0 1 0 -29.2 0zM1544.0 411.3a14.6 14.6 0 1 0 29.2 0a14.6 14.6 0 1 0 -29.2 0zM1526.2 435.7a14.6 14.6 0 1 0 29.2 0a14.6 14.6 0 1 0 -29.2 0zM1539.6 426.8a14.6 14.6 0 1 0 29.2 0a14.6 14.6 0 1 0 -29.2 0zM1657.4 435.7a14.6 14.6 0 1 0 29.2 0a14.6 14.6 0 1 0 -29.2 0zM1206.1 382.4a14.6 14.6 0 1 0 29.2 0a14.6 14.6 0 1 0 -29.2 0zM1192.7 395.7a14.6 14.6 0 1 0 29.2 0a14.6 14.6 0 1 0 -29.2 0zM1190.5 413.5a14.6 14.6 0 1 0 29.2 0a14.6 14.6 0 1 0 -29.2 0zM1201.6 431.3a14.6 14.6 0 1 0 29.2 0a14.6 14.6 0 1 0 -29.2 0zM1183.8 440.2a14.6 14.6 0 1 0 29.2 0a14.6 14.6 0 1 0 -29.2 0zM1246.1 393.5a14.6 14.6 0 1 0 29.2 0a14.6 14.6 0 1 0 -29.2 0zM1266.1 389.0a14.6 14.6 0 1 0 29.2 0a14.6 14.6 0 1 0 -29.2 0zM1275.0 402.4a14.6 14.6 0 1 0 29.2 0a14.6 14.6 0 1 0 -29.2 0zM1268.3 417.9a14.6 14.6 0 1 0 29.2 0a14.6 14.6 0 1 0 -29.2 0zM1301.7 440.2a14.6 14.6 0 1 0 29.2 0a14.6 14.6 0 1 0 -29.2 0zM1375.0 440.2a14.6 14.6 0 1 0 29.2 0a14.6 14.6 0 1 0 -29.2 0zM1437.3 435.7a14.6 14.6 0 1 0 29.2 0a14.6 14.6 0 1 0 -29.2 0zM1457.3 444.6a14.6 14.6 0 1 0 29.2 0a14.6 14.6 0 1 0 -29.2 0zM1720.1 374.6a14.6 14.6 0 1 0 29.2 0a14.6 14.6 0 1 0 -29.2 0zM1720.1 407.9a14.6 14.6 0 1 0 29.2 0a14.6 14.6 0 1 0 -29.2 0zM1709.0 433.5a14.6 14.6 0 1 0 29.2 0a14.6 14.6 0 1 0 -29.2 0zM1682.3 440.2a14.6 14.6 0 1 0 29.2 0a14.6 14.6 0 1 0 -29.2 0zM1824.6 434.6a14.6 14.6 0 1 0 29.2 0a14.6 14.6 0 1 0 -29.2 0zM1859.0 434.6a14.6 14.6 0 1 0 29.2 0a14.6 14.6 0 1 0 -29.2 0zM1920.2 406.8a14.6 14.6 0 1 0 29.2 0a14.6 14.6 0 1 0 -29.2 0zM1895.7 433.5a14.6 14.6 0 1 0 29.2 0a14.6 14.6 0 1 0 -29.2 0zM1929.1 440.2a14.6 14.6 0 1 0 29.2 0a14.6 14.6 0 1 0 -29.2 0zM2046.9 413.5a14.6 14.6 0 1 0 29.2 0a14.6 14.6 0 1 0 -29.2 0zM2002.4 435.7a14.6 14.6 0 1 0 29.2 0a14.6 14.6 0 1 0 -29.2 0zM2029.1 440.2a14.6 14.6 0 1 0 29.2 0a14.6 14.6 0 1 0 -29.2 0zM2071.4 437.9a14.6 14.6 0 1 0 29.2 0a14.6 14.6 0 1 0 -29.2 0zM1678.3 182.7a14.6 14.6 0 1 0 29.2 0a14.6 14.6 0 1 0 -29.2 0zM1822.2 1375.7a14.6 14.6 0 1 0 29.2 0a14.6 14.6 0 1 0 -29.2 0zM1974.0 1375.7a14.6 14.6 0 1 0 29.2 0a14.6 14.6 0 1 0 -29.2 0zM2018.9 1379.0a14.6 14.6 0 1 0 29.2 0a14.6 14.6 0 1 0 -29.2 0zM1931.8 1351.2a14.6 14.6 0 1 0 29.2 0a14.6 14.6 0 1 0 -29.2 0zM1864.4 1359.0a14.6 14.6 0 1 0 29.2 0a14.6 14.6 0 1 0 -29.2 0zM1867.7 1379.0a14.6 14.6 0 1 0 29.2 0a14.6 14.6 0 1 0 -29.2 0zM1789.9 1330.1a14.6 14.6 0 1 0 29.2 0a14.6 14.6 0 1 0 -29.2 0zM1796.6 1345.6a14.6 14.6 0 1 0 29.2 0a14.6 14.6 0 1 0 -29.2 0zM1783.2 1361.2a14.6 14.6 0 1 0 29.2 0a14.6 14.6 0 1 0 -29.2 0zM1890.0 1307.8a14.6 14.6 0 1 0 29.2 0a14.6 14.6 0 1 0 -29.2 0zM1878.8 1325.6a14.6 14.6 0 1 0 29.2 0a14.6 14.6 0 1 0 -29.2 0zM1896.6 1325.6a14.6 14.6 0 1 0 29.2 0a14.6 14.6 0 1 0 -29.2 0zM1983.3 1287.8a14.6 14.6 0 1 0 29.2 0a14.6 14.6 0 1 0 -29.2 0zM1998.9 1301.2a14.6 14.6 0 1 0 29.2 0a14.6 14.6 0 1 0 -29.2 0zM1981.1 1310.1a14.6 14.6 0 1 0 29.2 0a14.6 14.6 0 1 0 -29.2 0zM1956.7 1334.5a14.6 14.6 0 1 0 29.2 0a14.6 14.6 0 1 0 -29.2 0zM1954.4 1319.0a14.6 14.6 0 1 0 29.2 0a14.6 14.6 0 1 0 -29.2 0zM2078.9 1396.8a14.6 14.6 0 1 0 29.2 0a14.6 14.6 0 1 0 -29.2 0zM1607.2 1398.1a14.6 14.6 0 1 0 29.2 0a14.6 14.6 0 1 0 -29.2 0zM1620.5 1385.7a14.6 14.6 0 1 0 29.2 0a14.6 14.6 0 1 0 -29.2 0zM347.2 900.3a14.6 14.6 0 1 0 29.2 0a14.6 14.6 0 1 0 -29.2 0zM364.3 935.9a14.6 14.6 0 1 0 29.2 0a14.6 14.6 0 1 0 -29.2 0zM600.7 510.0a14.6 14.6 0 1 0 29.2 0a14.6 14.6 0 1 0 -29.2 0zM681.1 517.3a14.6 14.6 0 1 0 29.2 0a14.6 14.6 0 1 0 -29.2 0zM712.3 516.7a14.6 14.6 0 1 0 29.2 0a14.6 14.6 0 1 0 -29.2 0zM519.3 574.5a14.6 14.6 0 1 0 29.2 0a14.6 14.6 0 1 0 -29.2 0zM484.4 613.4a14.6 14.6 0 1 0 29.2 0a14.6 14.6 0 1 0 -29.2 0zM613.3 591.2a14.6 14.6 0 1 0 29.2 0a14.6 14.6 0 1 0 -29.2 0zM641.1 613.4a14.6 14.6 0 1 0 29.2 0a14.6 14.6 0 1 0 -29.2 0zM647.8 635.6a14.6 14.6 0 1 0 29.2 0a14.6 14.6 0 1 0 -29.2 0zM568.9 626.7a14.6 14.6 0 1 0 29.2 0a14.6 14.6 0 1 0 -29.2 0zM594.4 631.2a14.6 14.6 0 1 0 29.2 0a14.6 14.6 0 1 0 -29.2 0zM618.9 633.4a14.6 14.6 0 1 0 29.2 0a14.6 14.6 0 1 0 -29.2 0zM585.5 646.7a14.6 14.6 0 1 0 29.2 0a14.6 14.6 0 1 0 -29.2 0zM627.8 606.7a14.6 14.6 0 1 0 29.2 0a14.6 14.6 0 1 0 -29.2 0zM614.4 665.6a14.6 14.6 0 1 0 29.2 0a14.6 14.6 0 1 0 -29.2 0zM702.3 634.5a14.6 14.6 0 1 0 29.2 0a14.6 14.6 0 1 0 -29.2 0zM754.5 542.2a14.6 14.6 0 1 0 29.2 0a14.6 14.6 0 1 0 -29.2 0zM772.3 551.1a14.6 14.6 0 1 0 29.2 0a14.6 14.6 0 1 0 -29.2 0zM732.3 566.7a14.6 14.6 0 1 0 29.2 0a14.6 14.6 0 1 0 -29.2 0zM727.8 575.6a14.6 14.6 0 1 0 29.2 0a14.6 14.6 0 1 0 -29.2 0zM750.1 580.0a14.6 14.6 0 1 0 29.2 0a14.6 14.6 0 1 0 -29.2 0zM770.1 588.9a14.6 14.6 0 1 0 29.2 0a14.6 14.6 0 1 0 -29.2 0zM745.6 606.7a14.6 14.6 0 1 0 29.2 0a14.6 14.6 0 1 0 -29.2 0zM774.5 604.5a14.6 14.6 0 1 0 29.2 0a14.6 14.6 0 1 0 -29.2 0zM770.1 640.1a14.6 14.6 0 1 0 29.2 0a14.6 14.6 0 1 0 -29.2 0zM752.3 660.1a14.6 14.6 0 1 0 29.2 0a14.6 14.6 0 1 0 -29.2 0zM774.5 666.7a14.6 14.6 0 1 0 29.2 0a14.6 14.6 0 1 0 -29.2 0zM758.9 677.9a14.6 14.6 0 1 0 29.2 0a14.6 14.6 0 1 0 -29.2 0zM676.7 676.7a14.6 14.6 0 1 0 29.2 0a14.6 14.6 0 1 0 -29.2 0zM687.8 676.7a14.6 14.6 0 1 0 29.2 0a14.6 14.6 0 1 0 -29.2 0zM716.7 676.7a14.6 14.6 0 1 0 29.2 0a14.6 14.6 0 1 0 -29.2 0zM570.0 677.9a14.6 14.6 0 1 0 29.2 0a14.6 14.6 0 1 0 -29.2 0zM552.2 684.5a14.6 14.6 0 1 0 29.2 0a14.6 14.6 0 1 0 -29.2 0zM536.6 691.2a14.6 14.6 0 1 0 29.2 0a14.6 14.6 0 1 0 -29.2 0zM498.8 701.9a14.6 14.6 0 1 0 29.2 0a14.6 14.6 0 1 0 -29.2 0zM543.3 719.0a14.6 14.6 0 1 0 29.2 0a14.6 14.6 0 1 0 -29.2 0zM459.9 726.8a14.6 14.6 0 1 0 29.2 0a14.6 14.6 0 1 0 -29.2 0zM438.8 762.3a14.6 14.6 0 1 0 29.2 0a14.6 14.6 0 1 0 -29.2 0zM389.2 769.0a14.6 14.6 0 1 0 29.2 0a14.6 14.6 0 1 0 -29.2 0zM481.0 746.8a14.6 14.6 0 1 0 29.2 0a14.6 14.6 0 1 0 -29.2 0zM494.4 746.8a14.6 14.6 0 1 0 29.2 0a14.6 14.6 0 1 0 -29.2 0zM483.3 771.2a14.6 14.6 0 1 0 29.2 0a14.6 14.6 0 1 0 -29.2 0zM507.7 760.1a14.6 14.6 0 1 0 29.2 0a14.6 14.6 0 1 0 -29.2 0zM521.1 771.2a14.6 14.6 0 1 0 29.2 0a14.6 14.6 0 1 0 -29.2 0zM354.3 837.9a14.6 14.6 0 1 0 29.2 0a14.6 14.6 0 1 0 -29.2 0zM367.7 831.3a14.6 14.6 0 1 0 29.2 0a14.6 14.6 0 1 0 -29.2 0zM383.2 837.9a14.6 14.6 0 1 0 29.2 0a14.6 14.6 0 1 0 -29.2 0zM385.4 855.7a14.6 14.6 0 1 0 29.2 0a14.6 14.6 0 1 0 -29.2 0zM438.8 853.5a14.6 14.6 0 1 0 29.2 0a14.6 14.6 0 1 0 -29.2 0zM429.9 864.6a14.6 14.6 0 1 0 29.2 0a14.6 14.6 0 1 0 -29.2 0zM752.1 458.9a14.6 14.6 0 1 0 29.2 0a14.6 14.6 0 1 0 -29.2 0zM783.2 461.1a14.6 14.6 0 1 0 29.2 0a14.6 14.6 0 1 0 -29.2 0zM823.2 454.5a14.6 14.6 0 1 0 29.2 0a14.6 14.6 0 1 0 -29.2 0zM801.0 445.6a14.6 14.6 0 1 0 29.2 0a14.6 14.6 0 1 0 -29.2 0zM744.3 492.3a14.6 14.6 0 1 0 29.2 0a14.6 14.6 0 1 0 -29.2 0zM729.9 492.3a14.6 14.6 0 1 0 29.2 0a14.6 14.6 0 1 0 -29.2 0zM807.7 487.8a14.6 14.6 0 1 0 29.2 0a14.6 14.6 0 1 0 -29.2 0zM811.0 503.4a14.6 14.6 0 1 0 29.2 0a14.6 14.6 0 1 0 -29.2 0zM838.8 511.1a14.6 14.6 0 1 0 29.2 0a14.6 14.6 0 1 0 -29.2 0zM836.6 526.7a14.6 14.6 0 1 0 29.2 0a14.6 14.6 0 1 0 -29.2 0zM823.2 514.5a14.6 14.6 0 1 0 29.2 0a14.6 14.6 0 1 0 -29.2 0zM903.3 481.1a14.6 14.6 0 1 0 29.2 0a14.6 14.6 0 1 0 -29.2 0zM926.6 494.5a14.6 14.6 0 1 0 29.2 0a14.6 14.6 0 1 0 -29.2 0zM914.4 487.8a14.6 14.6 0 1 0 29.2 0a14.6 14.6 0 1 0 -29.2 0zM874.4 524.5a14.6 14.6 0 1 0 29.2 0a14.6 14.6 0 1 0 -29.2 0zM869.9 543.4a14.6 14.6 0 1 0 29.2 0a14.6 14.6 0 1 0 -29.2 0zM874.4 561.2a14.6 14.6 0 1 0 29.2 0a14.6 14.6 0 1 0 -29.2 0zM836.6 563.4a14.6 14.6 0 1 0 29.2 0a14.6 14.6 0 1 0 -29.2 0zM756.5 543.4a14.6 14.6 0 1 0 29.2 0a14.6 14.6 0 1 0 -29.2 0zM774.3 550.1a14.6 14.6 0 1 0 29.2 0a14.6 14.6 0 1 0 -29.2 0zM789.9 563.4a14.6 14.6 0 1 0 29.2 0a14.6 14.6 0 1 0 -29.2 0zM796.6 572.3a14.6 14.6 0 1 0 29.2 0a14.6 14.6 0 1 0 -29.2 0zM732.1 567.8a14.6 14.6 0 1 0 29.2 0a14.6 14.6 0 1 0 -29.2 0zM727.6 581.2a14.6 14.6 0 1 0 29.2 0a14.6 14.6 0 1 0 -29.2 0zM745.4 592.3a14.6 14.6 0 1 0 29.2 0a14.6 14.6 0 1 0 -29.2 0zM745.4 607.9a14.6 14.6 0 1 0 29.2 0a14.6 14.6 0 1 0 -29.2 0zM702.1 633.4a14.6 14.6 0 1 0 29.2 0a14.6 14.6 0 1 0 -29.2 0zM829.9 607.9a14.6 14.6 0 1 0 29.2 0a14.6 14.6 0 1 0 -29.2 0zM827.7 625.6a14.6 14.6 0 1 0 29.2 0a14.6 14.6 0 1 0 -29.2 0zM823.2 636.8a14.6 14.6 0 1 0 29.2 0a14.6 14.6 0 1 0 -29.2 0zM858.8 614.5a14.6 14.6 0 1 0 29.2 0a14.6 14.6 0 1 0 -29.2 0zM847.7 630.1a14.6 14.6 0 1 0 29.2 0a14.6 14.6 0 1 0 -29.2 0zM838.8 641.2a14.6 14.6 0 1 0 29.2 0a14.6 14.6 0 1 0 -29.2 0zM716.5 674.6a14.6 14.6 0 1 0 29.2 0a14.6 14.6 0 1 0 -29.2 0zM689.8 674.6a14.6 14.6 0 1 0 29.2 0a14.6 14.6 0 1 0 -29.2 0zM1007.8 443.3a14.6 14.6 0 1 0 29.2 0a14.6 14.6 0 1 0 -29.2 0zM1005.5 463.3a14.6 14.6 0 1 0 29.2 0a14.6 14.6 0 1 0 -29.2 0zM1018.9 474.5a14.6 14.6 0 1 0 29.2 0a14.6 14.6 0 1 0 -29.2 0zM1050.0 452.2a14.6 14.6 0 1 0 29.2 0a14.6 14.6 0 1 0 -29.2 0zM1041.1 467.8a14.6 14.6 0 1 0 29.2 0a14.6 14.6 0 1 0 -29.2 0zM1063.3 481.1a14.6 14.6 0 1 0 29.2 0a14.6 14.6 0 1 0 -29.2 0zM1032.2 496.7a14.6 14.6 0 1 0 29.2 0a14.6 14.6 0 1 0 -29.2 0zM1045.6 501.1a14.6 14.6 0 1 0 29.2 0a14.6 14.6 0 1 0 -29.2 0zM1118.9 443.3a14.6 14.6 0 1 0 29.2 0a14.6 14.6 0 1 0 -29.2 0zM1141.2 441.1a14.6 14.6 0 1 0 29.2 0a14.6 14.6 0 1 0 -29.2 0zM1163.4 447.8a14.6 14.6 0 1 0 29.2 0a14.6 14.6 0 1 0 -29.2 0zM1121.2 465.6a14.6 14.6 0 1 0 29.2 0a14.6 14.6 0 1 0 -29.2 0zM1150.1 481.1a14.6 14.6 0 1 0 29.2 0a14.6 14.6 0 1 0 -29.2 0zM1172.3 458.9a14.6 14.6 0 1 0 29.2 0a14.6 14.6 0 1 0 -29.2 0zM1174.5 485.6a14.6 14.6 0 1 0 29.2 0a14.6 14.6 0 1 0 -29.2 0zM1684.5 441.1a14.6 14.6 0 1 0 29.2 0a14.6 14.6 0 1 0 -29.2 0zM1702.3 436.7a14.6 14.6 0 1 0 29.2 0a14.6 14.6 0 1 0 -29.2 0zM1720.1 450.0a14.6 14.6 0 1 0 29.2 0a14.6 14.6 0 1 0 -29.2 0zM1857.9 444.5a14.6 14.6 0 1 0 29.2 0a14.6 14.6 0 1 0 -29.2 0zM1895.7 436.7a14.6 14.6 0 1 0 29.2 0a14.6 14.6 0 1 0 -29.2 0zM1929.1 443.3a14.6 14.6 0 1 0 29.2 0a14.6 14.6 0 1 0 -29.2 0zM1946.9 463.3a14.6 14.6 0 1 0 29.2 0a14.6 14.6 0 1 0 -29.2 0zM1960.2 476.7a14.6 14.6 0 1 0 29.2 0a14.6 14.6 0 1 0 -29.2 0zM2002.4 441.1a14.6 14.6 0 1 0 29.2 0a14.6 14.6 0 1 0 -29.2 0zM2029.1 443.3a14.6 14.6 0 1 0 29.2 0a14.6 14.6 0 1 0 -29.2 0zM2051.3 436.7a14.6 14.6 0 1 0 29.2 0a14.6 14.6 0 1 0 -29.2 0zM2071.4 443.3a14.6 14.6 0 1 0 29.2 0a14.6 14.6 0 1 0 -29.2 0zM1773.4 463.3a14.6 14.6 0 1 0 29.2 0a14.6 14.6 0 1 0 -29.2 0zM2073.6 476.7a14.6 14.6 0 1 0 29.2 0a14.6 14.6 0 1 0 -29.2 0zM2066.9 483.4a14.6 14.6 0 1 0 29.2 0a14.6 14.6 0 1 0 -29.2 0zM1791.0 1339.0a14.6 14.6 0 1 0 29.2 0a14.6 14.6 0 1 0 -29.2 0zM1789.9 1354.5a14.6 14.6 0 1 0 29.2 0a14.6 14.6 0 1 0 -29.2 0zM1782.1 1349.0a14.6 14.6 0 1 0 29.2 0a14.6 14.6 0 1 0 -29.2 0zM1887.7 1319.0a14.6 14.6 0 1 0 29.2 0a14.6 14.6 0 1 0 -29.2 0zM1953.5 1274.5a14.6 14.6 0 1 0 29.2 0a14.6 14.6 0 1 0 -29.2 0zM1953.5 1292.3a14.6 14.6 0 1 0 29.2 0a14.6 14.6 0 1 0 -29.2 0zM1952.2 1305.6a14.6 14.6 0 1 0 29.2 0a14.6 14.6 0 1 0 -29.2 0zM1990.0 1296.7a14.6 14.6 0 1 0 29.2 0a14.6 14.6 0 1 0 -29.2 0zM1797.9 477.8a14.6 14.6 0 1 0 29.2 0a14.6 14.6 0 1 0 -29.2 0zM1793.5 492.3a14.6 14.6 0 1 0 29.2 0a14.6 14.6 0 1 0 -29.2 0zM1835.7 482.2a14.6 14.6 0 1 0 29.2 0a14.6 14.6 0 1 0 -29.2 0zM1826.8 494.5a14.6 14.6 0 1 0 29.2 0a14.6 14.6 0 1 0 -29.2 0zM1873.5 482.2a14.6 14.6 0 1 0 29.2 0a14.6 14.6 0 1 0 -29.2 0zM1900.2 471.1a14.6 14.6 0 1 0 29.2 0a14.6 14.6 0 1 0 -29.2 0zM1897.9 502.3a14.6 14.6 0 1 0 29.2 0a14.6 14.6 0 1 0 -29.2 0zM2024.7 474.5a14.6 14.6 0 1 0 29.2 0a14.6 14.6 0 1 0 -29.2 0zM2026.9 490.0a14.6 14.6 0 1 0 29.2 0a14.6 14.6 0 1 0 -29.2 0zM1705.6 495.6a14.6 14.6 0 1 0 29.2 0a14.6 14.6 0 1 0 -29.2 0zM2080.2 524.5a14.6 14.6 0 1 0 29.2 0a14.6 14.6 0 1 0 -29.2 0zM2080.9 456.7a14.6 14.6 0 1 0 29.2 0a14.6 14.6 0 1 0 -29.2 0zM2080.9 443.3a14.6 14.6 0 1 0 29.2 0a14.6 14.6 0 1 0 -29.2 0zM2064.7 456.7a14.6 14.6 0 1 0 29.2 0a14.6 14.6 0 1 0 -29.2 0z"/></g>
</g>
<g id="chrome" filter="url(#soft2)"><g id="legend"><rect x="1604.6" y="70.8" width="553.0" height="266.2" rx="10" ry="10" fill="#ffffff" fill-opacity="0.8" stroke="#cccccc" stroke-opacity="0.8" stroke-width="3.4"/><circle cx="1685.2" cy="123.7" r="14.6" fill="#ff0000"/><text class="lb" x="1788.5" y="136.7">small ship</text><circle cx="1685.2" cy="205.6" r="14.6" fill="#ffff00"/><text class="lb" x="1788.5" y="217.8">middle ship</text><circle cx="1685.2" cy="286.8" r="14.6" fill="#0000ff"/><text class="lb" x="1788.5" y="302.6">big ship</text></g>
<g id="axes" stroke="#000" stroke-width="3.9" fill="none"><rect x="221.0" y="42.6" width="1964.6" height="1439.2" stroke-linejoin="miter"/><path d="M305.4 1481.8v18.8M664.2 1481.8v18.8M1019.7 1481.8v18.8M1379.2 1481.8v18.8M1738.1 1481.8v18.8M2097.3 1481.8v18.8M221.0 1421.4h-18.8M221.0 1155.7h-18.8M221.0 893.4h-18.8M221.0 631.2h-18.8M221.0 368.7h-18.8M221.0 106.5h-18.8" stroke-width="3.2"/></g>
<g id="xticks" text-anchor="middle"><text class="tk" x="305.0" y="1550.8">0.0</text><text class="tk" x="660.6" y="1550.8">0.2</text><text class="tk" x="1020.7" y="1550.8">0.4</text><text class="tk" x="1377.8" y="1550.8">0.6</text><text class="tk" x="1737.4" y="1550.8">0.8</text><text class="tk" x="2095.9" y="1550.8">1.0</text></g>
<g id="yticks" text-anchor="end"><text class="tk" x="180.9" y="1437.4">0.0</text><text class="tk" x="180.9" y="1175.0">0.2</text><text class="tk" x="180.9" y="912.7">0.4</text><text class="tk" x="180.9" y="650.4">0.6</text><text class="tk" x="180.9" y="387.9">0.8</text><text class="tk" x="180.9" y="125.8">1.0</text></g>
<text class="lb" text-anchor="middle" x="1202.0" y="1624.9">Ship width</text>
<text class="lb" text-anchor="middle" transform="translate(74.8 761.0) rotate(-90)">Ship height</text>
</g>
<defs><filter id="gapsoft" x="0" y="0" width="100%" height="100%" filterUnits="userSpaceOnUse" primitiveUnits="userSpaceOnUse"><feGaussianBlur stdDeviation="1.0"/></filter><filter id="soft2" x="0" y="0" width="100%" height="100%" filterUnits="userSpaceOnUse" primitiveUnits="userSpaceOnUse"><feGaussianBlur stdDeviation="0.8"/></filter><filter id="soft" x="0" y="0" width="100%" height="100%" filterUnits="userSpaceOnUse" primitiveUnits="userSpaceOnUse"><feGaussianBlur stdDeviation="1.3"/></filter></defs>
</svg>
</body>
</html>
